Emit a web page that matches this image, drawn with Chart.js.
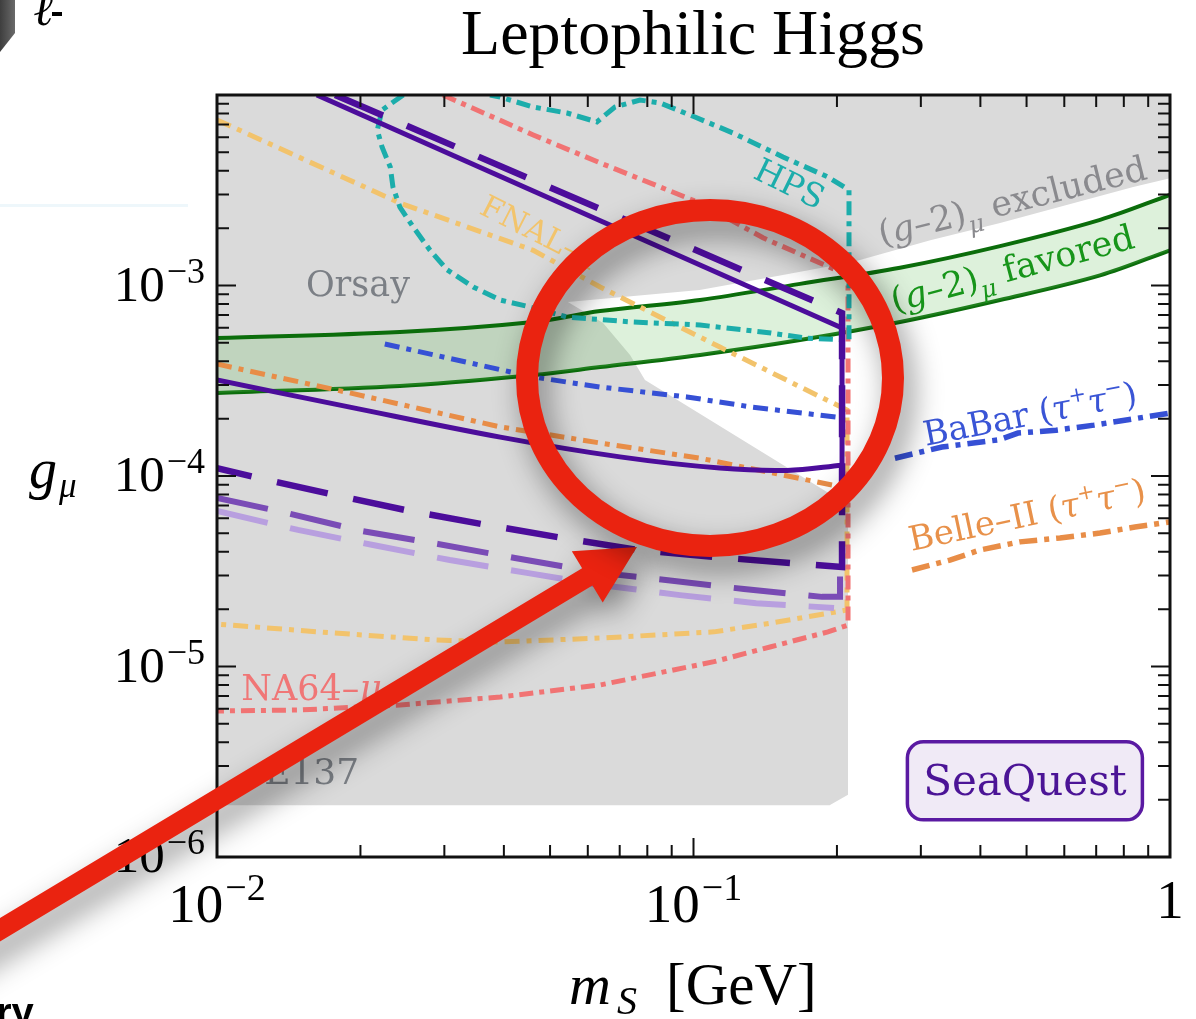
<!DOCTYPE html>
<html>
<head>
<meta charset="utf-8">
<title>Leptophilic Higgs</title>
<script src="https://cdn.jsdelivr.net/npm/chart.js@4.4.1/dist/chart.umd.min.js"></script>
<style>
  html, body { margin: 0; padding: 0; background: #ffffff; }
  #wrap { position: relative; width: 1196px; height: 1019px; overflow: hidden; }
  canvas { display: block; }
</style>
</head>
<body>
<div id="wrap"><canvas id="chart" width="1196" height="1019"></canvas></div>
<script>
// ---------- axis extents and tick labels ----------
const massRange = [0.01, 1];
const couplingRange = [1e-6, 1e-2];

const xTickValues = [0.01, 0.1, 1];
const xTickMantissa = ['10', '10', '1'];
const xTickExponent = ['−2', '−1', ''];
const yTickValues = [1e-6, 1e-5, 1e-4, 1e-3];
const yTickMantissa = ['10', '10', '10', '10'];
const yTickExponent = ['−6', '−5', '−4', '−3'];

// ---------- excluded region (Orsay / E137 / (g-2) excluded), m_S [GeV] vs g_mu ----------
const excludedMass = [0.01, 0.01, 1, 1, 0.837, 0.440, 0.314, 0.216, 0.152, 0.103, 0.0545, 0.0646, 0.0736, 0.0791, 0.203, 0.211, 0.211, 0.193];
const excludedCoupling = [1.87e-6, 1e-2, 1e-2, 3.66e-3, 3.29e-3, 2.13e-3, 1.73e-3, 1.33e-3, 1.13e-3, 9.47e-4, 8.18e-4, 6.36e-4, 4.32e-4, 3.19e-4, 7.48e-5, 7.04e-5, 2.12e-6, 1.87e-6];

// ---------- (g-2)_mu favored band ----------
const g2Mass = [0.01, 0.0242, 0.0461, 0.0637, 0.1032, 0.1673, 0.2713, 0.4398, 0.7131, 1];
const g2Upper = [5.30e-4, 5.70e-4, 6.43e-4, 7.34e-4, 8.39e-4, 1.02e-3, 1.24e-3, 1.61e-3, 2.21e-3, 2.99e-3];
const g2Lower = [2.73e-4, 2.97e-4, 3.39e-4, 3.73e-4, 4.32e-4, 5.17e-4, 6.43e-4, 8.39e-4, 1.13e-3, 1.53e-3];

// ---------- SeaQuest projections ----------
const sqSolidUpperMass = [0.0162, 0.205];
const sqSolidUpperG = [1e-2, 5.98e-4];
const sqSolidEdgeMass = [0.205, 0.205];
const sqSolidEdgeG = [7.17e-4, 7.76e-5];
const sqSolidLowerMass = [0.01, 0.0190, 0.0393, 0.0701, 0.1136, 0.1571, 0.205];
const sqSolidLowerG = [3.19e-4, 2.30e-4, 1.60e-4, 1.26e-4, 1.10e-4, 1.07e-4, 1.14e-4];
const sqDashMass = [0.0177, 0.205, 0.205, 0.1594, 0.1104, 0.0765, 0.0530, 0.0369, 0.0254, 0.0177, 0.0122, 0.01];
const sqDashG = [1e-2, 7.17e-4, 3.33e-5, 3.49e-5, 3.76e-5, 4.09e-5, 4.73e-5, 5.53e-5, 6.55e-5, 7.94e-5, 9.77e-5, 1.10e-4];
const sqMidMass = [0.01, 0.01403, 0.02015, 0.0291, 0.0422, 0.0637, 0.0884, 0.1276, 0.1861, 0.203, 0.203];
const sqMidG = [7.66e-5, 6.39e-5, 5.14e-5, 4.40e-5, 3.71e-5, 3.10e-5, 2.84e-5, 2.55e-5, 2.32e-5, 2.32e-5, 3.33e-5];
const sqLightMass = [0.01, 0.01479, 0.02125, 0.0308, 0.0447, 0.0637, 0.0937, 0.1353, 0.1972];
const sqLightG = [6.55e-5, 5.21e-5, 4.34e-5, 3.62e-5, 3.10e-5, 2.68e-5, 2.37e-5, 2.15e-5, 2.03e-5];

// ---------- other experiments ----------
const hpsMass = [0.0246, 0.0222, 0.0217, 0.0222, 0.0231, 0.0234, 0.0242, 0.0258, 0.0280, 0.0304, 0.0345, 0.0393, 0.0454, 0.0543, 0.0746, 0.1032, 0.1454, 0.1714, 0.212, 0.212, 0.1915, 0.1541, 0.1210, 0.1007, 0.0851, 0.0772, 0.0684, 0.0627, 0.0543, 0.0461, 0.0393, 0.0374];
const hpsG = [1e-2, 8.34e-3, 6.55e-3, 5.33e-3, 4.19e-3, 3.29e-3, 2.58e-3, 2.03e-3, 1.53e-3, 1.21e-3, 9.82e-4, 8.39e-4, 7.71e-4, 6.83e-4, 6.43e-4, 6.20e-4, 5.63e-4, 5.30e-4, 5.17e-4, 3.17e-3, 3.71e-3, 4.73e-3, 6.32e-3, 7.66e-3, 9.08e-3, 9.41e-3, 8.65e-3, 7.22e-3, 8.04e-3, 8.65e-3, 9.76e-3, 1e-2];

const na64Mass = [0.0298, 0.0461, 0.0637, 0.1032, 0.1399, 0.211, 0.211, 0.1915, 0.1454, 0.1104, 0.0637, 0.0393, 0.0242, 0.01494, 0.01];
const na64G = [1e-2, 6.17e-3, 4.40e-3, 2.71e-3, 1.78e-3, 1.13e-3, 1.65e-5, 1.52e-5, 1.27e-5, 1.06e-5, 8.00e-6, 6.92e-6, 6.28e-6, 5.91e-6, 5.84e-6];

const fnalMass = [0.01, 0.0242, 0.0461, 0.0637, 0.1136, 0.210, 0.210, 0.1454, 0.1104, 0.0637, 0.0393, 0.0284, 0.01751, 0.01];
const fnalG = [7.40e-3, 2.71e-3, 1.53e-3, 9.82e-4, 4.75e-4, 2.22e-4, 1.98e-5, 1.69e-5, 1.52e-5, 1.41e-5, 1.345e-5, 1.38e-5, 1.50e-5, 1.67e-5];

const belleLowMass = [0.01, 0.0190, 0.0393, 0.0637, 0.1032, 0.205];
const belleLowG = [3.87e-4, 2.73e-4, 1.81e-4, 1.49e-4, 1.24e-4, 8.75e-5];
const belleHighMass = [0.2875, 0.3453, 0.3994, 0.4843, 0.5876, 0.7131, 0.8444, 1];
const belleHighG = [3.21e-5, 3.62e-5, 4.09e-5, 4.51e-5, 4.73e-5, 5.02e-5, 5.40e-5, 5.74e-5];

const babarLowMass = [0.0225, 0.0461, 0.0637, 0.0969, 0.1327, 0.205];
const babarLowG = [4.93e-4, 3.31e-4, 2.93e-4, 2.60e-4, 2.30e-4, 2.02e-4];
const babarHighMass = [0.2647, 0.3323, 0.4377, 0.4797, 0.5765, 0.6927, 1];
const babarHighG = [1.24e-4, 1.42e-4, 1.55e-4, 1.68e-4, 1.74e-4, 1.85e-4, 2.14e-4];

// ---------- in-plot labels (anchored at mass, coupling) ----------
const plotLabels = [
  { parts: [{t: 'HPS'}], m: 0.1594, g: 3.45e-3, size: 33, rot: 26, color: '#1cadab' },
  { parts: [{t: 'FNAL–'}, {t: 'μ', i: true}], m: 0.0476, g: 1.91e-3, size: 31, rot: 27, color: '#f2c46c' },
  { parts: [{t: 'Orsay'}], m: 0.01976, g: 1.03e-3, size: 35, rot: 0, color: '#7b7f85' },
  { parts: [{t: '('}, {t: 'g', i: true}, {t: '–2)'}, {t: 'μ', i: true, s: 0.68, dy: 0.28}, {t: ' excluded'}], m: 0.466, g: 2.81e-3, size: 35, rot: -14, color: '#8a8a8e' },
  { parts: [{t: '('}, {t: 'g', i: true}, {t: '–2)'}, {t: 'μ', i: true, s: 0.68, dy: 0.28}, {t: ' favored'}], m: 0.466, g: 1.24e-3, size: 35, rot: -15, color: '#17951a' },
  { parts: [{t: 'BaBar ('}, {t: 'τ', i: true}, {t: '+', s: 0.62, dy: -0.42}, {t: 'τ', i: true}, {t: '−', s: 0.62, dy: -0.42}, {t: ')'}], m: 0.508, g: 2.14e-4, size: 34, rot: -11, color: '#3a55d6' },
  { parts: [{t: 'Belle–II ('}, {t: 'τ', i: true}, {t: '+', s: 0.62, dy: -0.42}, {t: 'τ', i: true}, {t: '−', s: 0.62, dy: -0.42}, {t: ')'}], m: 0.501, g: 6.32e-5, size: 34, rot: -12, color: '#e8914a' },
  { parts: [{t: 'NA64–'}, {t: 'μ', i: true}], m: 0.0158, g: 7.81e-6, size: 35, rot: 0, color: '#f07676' },
  { parts: [{t: 'E137'}], m: 0.0158, g: 2.83e-6, size: 36, rot: 0, color: '#7b7f85' }
];
const seaQuestTag = { text: 'SeaQuest', m: 0.496, g: 2.51e-6 };
const highlightCenter = { m: 0.1083, g: 3.27e-4 };
const pointerTip = { m: 0.0761, g: 4.24e-5 };

// ---------- helpers ----------
function pts(xs, ys) { return xs.map((x, i) => ({ x: x, y: ys[i] })); }
function curve(xs, ys, color, width, dash, extra) {
  return Object.assign({
    data: pts(xs, ys),
    borderColor: color,
    borderWidth: width,
    borderDash: dash || [],
    borderCapStyle: 'butt',
    borderJoinStyle: 'miter',
    pointRadius: 0,
    pointHoverRadius: 0,
    fill: false,
    tension: 0,
    clip: 0,
    order: 1
  }, extra || {});
}

const SERIF = '"Liberation Serif", "Times New Roman", serif';
const LABEL_SERIF = '"DejaVu Serif", serif';

function richText(ctx, parts, x, y, size, color, rot, family, align) {
  ctx.save();
  ctx.translate(x, y);
  ctx.rotate((rot || 0) * Math.PI / 180);
  ctx.fillStyle = color;
  ctx.textBaseline = 'alphabetic';
  ctx.textAlign = 'left';
  const fam = family || LABEL_SERIF;
  let total = 0;
  const runs = parts.map(p => {
    const s = size * (p.s || 1);
    const font = (p.i ? 'italic ' : '') + s + 'px ' + fam;
    ctx.font = font;
    const w = ctx.measureText(p.t).width;
    total += w;
    return { t: p.t, font: font, w: w, dy: (p.dy || 0) * size };
  });
  let cx = align === 'left' ? 0 : -total / 2;
  const base = size * 0.36;
  for (const r of runs) {
    ctx.font = r.font;
    ctx.fillText(r.t, cx, base + r.dy);
    cx += r.w;
  }
  ctx.restore();
}

function roundRect(ctx, x, y, w, h, r) {
  ctx.beginPath();
  ctx.moveTo(x + r, y);
  ctx.lineTo(x + w - r, y);
  ctx.arcTo(x + w, y, x + w, y + r, r);
  ctx.lineTo(x + w, y + h - r);
  ctx.arcTo(x + w, y + h, x + w - r, y + h, r);
  ctx.lineTo(x + r, y + h);
  ctx.arcTo(x, y + h, x, y + h - r, r);
  ctx.lineTo(x, y + r);
  ctx.arcTo(x, y, x + r, y, r);
  ctx.closePath();
}

// ---------- decorations: frame, ticks, labels, titles, highlight ----------
const decorations = {
  id: 'decorations',
  afterDatasetsDraw(chart) {
    const ctx = chart.ctx;
    const xs = chart.scales.x, ys = chart.scales.y;
    const a = chart.chartArea;
    const P = (m, g) => [xs.getPixelForValue(m), ys.getPixelForValue(g)];

    // in-plot labels
    for (const L of plotLabels) {
      const [px, py] = P(L.m, L.g);
      richText(ctx, L.parts, px, py, L.size, L.color, L.rot);
    }

    // SeaQuest tag
    {
      const [px, py] = P(seaQuestTag.m, seaQuestTag.g);
      const w = 235, h = 78;
      ctx.save();
      roundRect(ctx, px - w / 2, py - h / 2, w, h, 16);
      ctx.fillStyle = '#f0eaf6';
      ctx.fill();
      ctx.lineWidth = 3.5;
      ctx.strokeStyle = '#5a1aa2';
      ctx.stroke();
      ctx.restore();
      richText(ctx, [{t: seaQuestTag.text}], px, py - 1, 42, '#4b1496', 0);
    }

    // frame and ticks (all four sides, pointing inwards)
    ctx.save();
    ctx.strokeStyle = '#111';
    ctx.lineWidth = 2;
    ctx.beginPath();
    for (let e = -2; e <= 0; e++) {
      for (let k = 1; k <= 9; k++) {
        const v = k * Math.pow(10, e);
        if (v > 1.0001) break;
        const px = xs.getPixelForValue(v);
        const len = k === 1 ? 19 : 12;
        ctx.moveTo(px, a.bottom); ctx.lineTo(px, a.bottom - len);
        ctx.moveTo(px, a.top); ctx.lineTo(px, a.top + len);
      }
    }
    for (let e = -6; e <= -2; e++) {
      for (let k = 1; k <= 9; k++) {
        const v = k * Math.pow(10, e);
        if (v > 1.0001e-2) break;
        const py = ys.getPixelForValue(v);
        const len = k === 1 ? 19 : 12;
        ctx.moveTo(a.left, py); ctx.lineTo(a.left + len, py);
        ctx.moveTo(a.right, py); ctx.lineTo(a.right - len, py);
      }
    }
    ctx.stroke();
    ctx.lineWidth = 3;
    ctx.strokeRect(a.left, a.top, a.right - a.left, a.bottom - a.top);
    ctx.restore();

    // tick labels
    ctx.save();
    ctx.fillStyle = '#000';
    ctx.textBaseline = 'alphabetic';
    yTickValues.forEach((v, i) => {
      const py = ys.getPixelForValue(v);
      ctx.font = '36px ' + SERIF;
      ctx.textAlign = 'right';
      const ew = ctx.measureText(yTickExponent[i]).width;
      ctx.fillText(yTickExponent[i], 205, py - 3);
      ctx.font = '51px ' + SERIF;
      ctx.fillText(yTickMantissa[i], 205 - ew - 2, py + 15);
    });
    xTickValues.forEach((v, i) => {
      const px = xs.getPixelForValue(v);
      ctx.font = '55px ' + SERIF;
      const mw = ctx.measureText(xTickMantissa[i]).width;
      ctx.font = '38px ' + SERIF;
      const ew = xTickExponent[i] ? ctx.measureText(xTickExponent[i]).width + 2 : 0;
      const start = px - (mw + ew) / 2;
      ctx.textAlign = 'left';
      ctx.font = '55px ' + SERIF;
      ctx.fillText(xTickMantissa[i], start, xTickExponent[i] ? 922 : 918);
      if (xTickExponent[i]) {
        ctx.font = '38px ' + SERIF;
        ctx.fillText(xTickExponent[i], start + mw + 2, 900);
      }
    });

    // axis titles
    ctx.textAlign = 'left';
    ctx.font = 'italic 56px ' + SERIF;
    ctx.fillText('g', 29, 488);
    ctx.font = 'italic 35px ' + SERIF;
    ctx.fillText('μ', 59, 497);

    ctx.font = 'italic 58px ' + SERIF;
    ctx.fillText('m', 569, 1004);
    ctx.font = 'italic 40px ' + SERIF;
    ctx.fillText('S', 617, 1014);
    ctx.font = '59px ' + SERIF;
    ctx.fillText('[GeV]', 666, 1004);

    // title
    ctx.textAlign = 'center';
    ctx.font = '64px ' + SERIF;
    ctx.fillText('Leptophilic Higgs', 693, 54);
    ctx.restore();

    // page fragments around the figure
    ctx.save();
    const grad = ctx.createLinearGradient(0, 0, 15, 0);
    grad.addColorStop(0, '#3e3e3e');
    grad.addColorStop(1, '#6a6a6a');
    ctx.fillStyle = grad;
    ctx.beginPath();
    ctx.moveTo(0, 0); ctx.lineTo(15, 0); ctx.lineTo(15, 33); ctx.lineTo(0, 52); ctx.closePath();
    ctx.fill();
    ctx.fillStyle = '#000';
    ctx.font = 'italic bold 48px "DejaVu Serif", serif';
    ctx.textAlign = 'left';
    ctx.fillText('ℓ', 34, 25);
    ctx.fillRect(52, 12, 10, 4);
    ctx.fillStyle = '#eef7fb';
    ctx.fillRect(0, 204, 188, 3);
    ctx.fillStyle = '#000';
    ctx.font = 'bold 40px "Liberation Sans", Arial, sans-serif';
    ctx.fillText('ry', -4, 1026);
    ctx.restore();

    // red highlight ring and pointer
    ctx.save();
    ctx.shadowColor = 'rgba(0,0,0,0.45)';
    ctx.shadowBlur = 30;
    ctx.shadowOffsetX = 8;
    ctx.shadowOffsetY = 14;
    ctx.fillStyle = '#ea2310';
    ctx.strokeStyle = '#ea2310';

    const [tx, ty] = P(pointerTip.m, pointerTip.g);
    const ang = -31 * Math.PI / 180;
    const ux = Math.cos(ang), uy = Math.sin(ang);
    const nx = -uy, ny = ux;
    const headLen = 58, headHalf = 30, shaftHalf = 10, tailLen = 900;
    const bx = tx - ux * headLen, by = ty - uy * headLen;
    ctx.beginPath();
    ctx.moveTo(tx, ty);
    ctx.lineTo(bx + nx * headHalf, by + ny * headHalf);
    ctx.lineTo(bx + nx * shaftHalf, by + ny * shaftHalf);
    ctx.lineTo(bx + nx * shaftHalf - ux * tailLen, by + ny * shaftHalf - uy * tailLen);
    ctx.lineTo(bx - nx * shaftHalf - ux * tailLen, by - ny * shaftHalf - uy * tailLen);
    ctx.lineTo(bx - nx * shaftHalf, by - ny * shaftHalf);
    ctx.lineTo(bx - nx * headHalf, by - ny * headHalf);
    ctx.closePath();
    ctx.fill();

    const [cx, cy] = P(highlightCenter.m, highlightCenter.g);
    ctx.lineWidth = 22;
    ctx.beginPath();
    ctx.ellipse(cx, cy, 183, 168, 0, 0, Math.PI * 2);
    ctx.stroke();
    ctx.restore();
  }
};

// ---------- datasets ----------
const dashDot = [15, 7, 5, 7];
const datasets = [
  // SeaQuest (topmost)
  curve(sqSolidUpperMass, sqSolidUpperG, '#4c0d9b', 5, null, { order: 1 }),
  curve(sqSolidEdgeMass, sqSolidEdgeG, '#4c0d9b', 5, null, { order: 1 }),
  curve(sqSolidLowerMass, sqSolidLowerG, '#4c0d9b', 5, null, { order: 1, tension: 0.35 }),
  curve(sqDashMass, sqDashG, '#4c0d9b', 6.5, [52, 26], { order: 2 }),
  curve(sqMidMass, sqMidG, '#7a4cb6', 6, [52, 23], { order: 3 }),
  curve(sqLightMass, sqLightG, '#b89fdf', 6, [52, 23], { order: 4 }),
  // other experiments
  curve(hpsMass, hpsG, '#1cadab', 5, [14, 6, 5, 6], { order: 5 }),
  curve(na64Mass, na64G, '#f17373', 5, [14, 6, 5, 6], { order: 6 }),
  curve(fnalMass, fnalG, '#f2c36c', 5, dashDot, { order: 7 }),
  curve(belleLowMass, belleLowG, '#e88d47', 5, dashDot, { order: 8 }),
  curve(belleHighMass, belleHighG, '#e88d47', 5.5, [18, 7, 5, 7], { order: 8 }),
  curve(babarLowMass, babarLowG, '#3650d5', 5, dashDot, { order: 9 }),
  curve(babarHighMass, babarHighG, '#3650d5', 5.5, [18, 7, 5, 7], { order: 9 }),
  // (g-2) favored band
  curve(g2Mass, g2Upper, '#0b6d0b', 4, null, { order: 20, tension: 0.35, fill: '+1', backgroundColor: 'rgba(100,190,90,0.22)' }),
  curve(g2Mass, g2Lower, '#0b6d0b', 4, null, { order: 21, tension: 0.35 }),
  // gray excluded region
  curve(excludedMass, excludedCoupling, 'rgba(0,0,0,0)', 1, null, { order: 100, fill: 'shape', backgroundColor: '#dadada' })
];

new Chart(document.getElementById('chart'), {
  type: 'line',
  data: { datasets: datasets },
  options: {
    responsive: false,
    animation: false,
    devicePixelRatio: 1,
    events: [],
    layout: { padding: { left: 217, right: 26, top: 95, bottom: 162 } },
    scales: {
      x: { type: 'logarithmic', min: massRange[0], max: massRange[1], display: false },
      y: { type: 'logarithmic', min: couplingRange[0], max: couplingRange[1], display: false }
    },
    plugins: {
      legend: { display: false },
      tooltip: { enabled: false }
    }
  },
  plugins: [decorations]
});
</script>
</body>
</html>
